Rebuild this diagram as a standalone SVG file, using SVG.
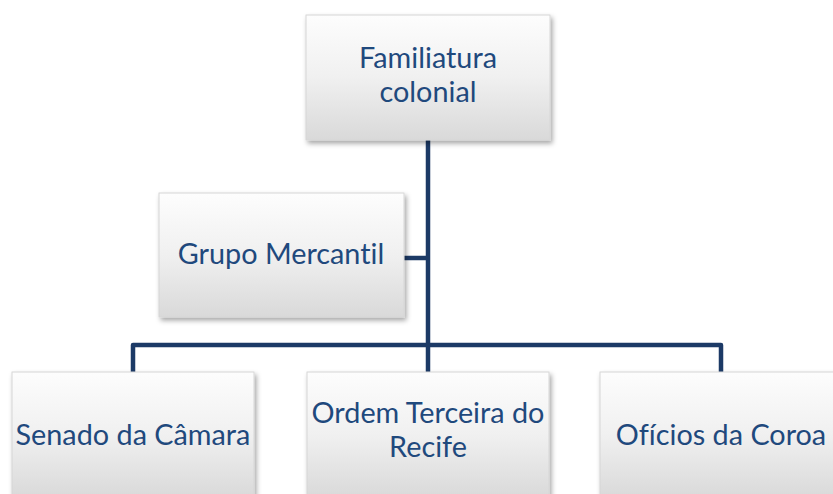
<svg xmlns="http://www.w3.org/2000/svg" width="833" height="494" viewBox="0 0 833 494">
<style>
.box{fill:url(#g);stroke:#d6d6d6;stroke-width:1;filter:url(#sh)}
.t{font-family:Lato,"Open Sans","Liberation Sans",sans-serif;font-size:28.8px;fill:#1F497D;text-anchor:middle;font-variant-ligatures:none;font-feature-settings:"liga" 0}
.c{fill:none;stroke:#1C3A66;stroke-width:4.5;stroke-linejoin:round;stroke-linecap:butt}
</style>
<defs>
<linearGradient id="g" x1="0" y1="0" x2="0" y2="1">
<stop offset="0" stop-color="#fdfdfd"/>
<stop offset="0.5" stop-color="#f0f0f0"/>
<stop offset="1" stop-color="#d9d9d9"/>
</linearGradient>
<filter id="sh" x="-10%" y="-10%" width="125%" height="130%">
<feDropShadow dx="2" dy="3" stdDeviation="2.5" flood-color="#000" flood-opacity="0.35"/>
</filter>
</defs>
<g id="connectors">
<path class="c" d="M428 140 V345"/>
<path class="c" d="M404 258 H428"/>
<path class="c" d="M133 372 V345 H721 V372"/>
<path class="c" d="M428 345 V372"/>
</g>
<g id="familiatura">
<rect class="box" x="306" y="15" width="244" height="125"/>
<text class="t" x="428" y="68">Familiatura</text>
<text class="t" x="428" y="102">colonial</text>
</g>
<g id="grupo">
<rect class="box" x="159" y="193" width="245" height="124"/>
<text class="t" x="281" y="264">Grupo Mercantil</text>
</g>
<g id="senado">
<rect class="box" x="12" y="372" width="242" height="126"/>
<text class="t" x="133" y="445">Senado da Câmara</text>
</g>
<g id="ordem">
<rect class="box" x="307" y="372" width="242" height="126"/>
<text class="t" x="428" y="423">Ordem Terceira do</text>
<text class="t" x="428" y="457">Recife</text>
</g>
<g id="oficios">
<rect class="box" x="600" y="372" width="242" height="126"/>
<text class="t" x="721" y="445">Ofícios da Coroa</text>
</g>
</svg>
